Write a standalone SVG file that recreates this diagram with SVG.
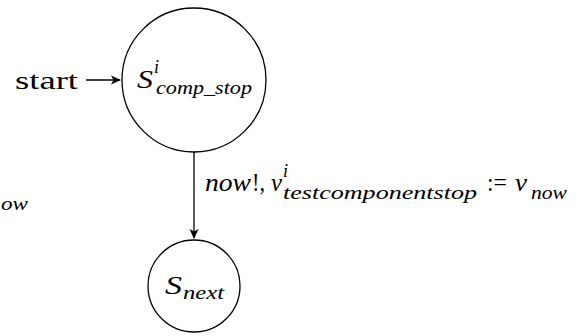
<svg xmlns="http://www.w3.org/2000/svg" width="581" height="336" viewBox="0 0 581 336">
<style>
.st{fill:#fff;stroke:#000;stroke-width:1.3}
.e{stroke:#000;stroke-width:1.3;fill:none}
text{font-family:"Liberation Serif","DejaVu Serif",serif;fill:#000}
.m{font-size:25px;font-style:italic}
.s{font-size:18px;font-style:italic}
.r{font-size:25px}
</style>
<defs>
<marker id="ah" viewBox="0 0 10 10" refX="9" refY="5" markerWidth="10" markerHeight="10" markerUnits="userSpaceOnUse" orient="auto">
<path d="M0,0.5 L10,5 L0,9.5 L2.5,5 Z" fill="#000"/>
</marker>
</defs>
<g id="edges">
<line class="e" x1="86" y1="80" x2="120" y2="80" marker-end="url(#ah)"/>
<line class="e" x1="194" y1="152" x2="194" y2="238" marker-end="url(#ah)"/>
</g>
<g id="start-label">
<text class="r" x="15" y="89" textLength="63" lengthAdjust="spacingAndGlyphs">start</text>
</g>
<g id="node-comp-stop">
<circle class="st" cx="194" cy="80" r="72"/>
<text class="m" x="137" y="88" textLength="16" lengthAdjust="spacingAndGlyphs">S</text>
<text class="s" x="154" y="73" textLength="5" lengthAdjust="spacingAndGlyphs">i</text>
<text class="s" x="156" y="94" textLength="96" lengthAdjust="spacingAndGlyphs">comp_stop</text>
</g>
<g id="node-next">
<circle class="st" cx="194" cy="286" r="46"/>
<text class="m" x="165" y="294" textLength="17" lengthAdjust="spacingAndGlyphs">S</text>
<text class="s" x="183" y="299" textLength="41" lengthAdjust="spacingAndGlyphs">next</text>
</g>
<g id="edge-label">
<text class="m" x="205" y="191" textLength="46" lengthAdjust="spacingAndGlyphs">now</text>
<text class="r" x="252" y="191" textLength="13" lengthAdjust="spacingAndGlyphs">!,</text>
<text class="m" x="271" y="191" textLength="11" lengthAdjust="spacingAndGlyphs">v</text>
<text class="s" x="283" y="177" textLength="5" lengthAdjust="spacingAndGlyphs">i</text>
<text class="s" x="283" y="199" textLength="194" lengthAdjust="spacingAndGlyphs">testcomponentstop</text>
<text class="r" x="487" y="191" textLength="20" lengthAdjust="spacingAndGlyphs">:=</text>
<text class="m" x="515" y="191" textLength="12" lengthAdjust="spacingAndGlyphs">v</text>
<text class="s" x="531" y="199" textLength="36" lengthAdjust="spacingAndGlyphs">now</text>
</g>
<g id="fragment">
<text class="s" x="1" y="210" textLength="27" lengthAdjust="spacingAndGlyphs">ow</text>
</g>
</svg>
